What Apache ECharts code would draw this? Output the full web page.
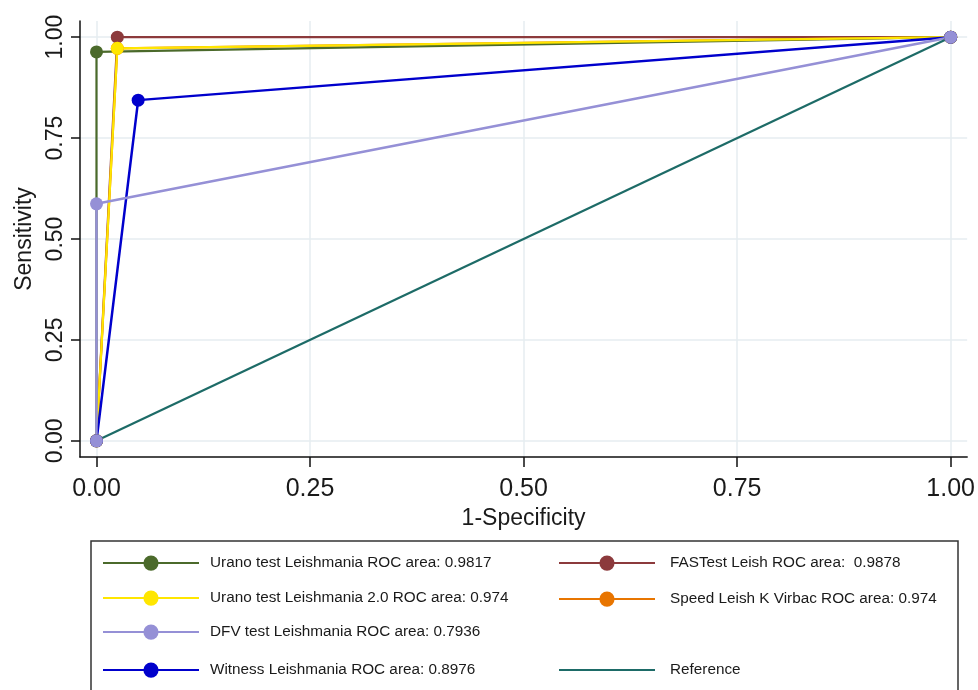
<!DOCTYPE html>
<html>
<head>
<meta charset="utf-8">
<script src="https://cdn.jsdelivr.net/npm/echarts@6/dist/echarts.min.js"></script>
<style>html,body{margin:0;padding:0;background:#fff;}#c{width:978px;height:690px;}</style>
</head>
<body>
<div id="c"></div>
<script>
// ---- data ----
const xTicks = [0, 0.25, 0.5, 0.75, 1];
const yTicks = [0, 0.25, 0.5, 0.75, 1];
const nameUrano = 'Urano test Leishmania ROC area: 0.9817';
const nameFas = 'FASTest Leish ROC area:  0.9878';
const nameUrano2 = 'Urano test Leishmania 2.0 ROC area: 0.974';
const nameSpeed = 'Speed Leish K Virbac ROC area: 0.974';
const nameDfv = 'DFV test Leishmania ROC area: 0.7936';
const nameWitness = 'Witness Leishmania ROC area: 0.8976';
const nameRef = 'Reference';
const uranoPts = [[0, 0], [0, 0.9634], [1, 1]];
const fasPts = [[0, 0], [0.0244, 1], [1, 1]];
const urano2Pts = [[0, 0], [0.0244, 0.9724], [1, 1]];
const speedPts = [[0, 0], [0.0244, 0.9724], [1, 1]];
const dfvPts = [[0, 0], [0, 0.5872], [1, 1]];
const witnessPts = [[0, 0], [0.0488, 0.8440], [1, 1]];
const refPts = [[0, 0], [1, 1]];

const FONT = 'Liberation Sans, Arial, sans-serif';
const C = {
  urano: '#4b6a2b', fas: '#8c3a3c', urano2: '#ffe600', speed: '#e87500',
  dfv: '#9590d6', witness: '#0000cc', ref: '#1d6b67'
};

function lineSeries(name, data, color, width, showSym) {
  return {
    name: name, type: 'line', data: data,
    symbol: showSym ? 'circle' : 'none', symbolSize: 13, showSymbol: showSym,
    lineStyle: { color: color, width: width },
    itemStyle: { color: color },
    emphasis: { disabled: true }, animation: false
  };
}

function legendAt(name, left, cy, padLeft, hideSym) {
  const item = { name: name };
  if (hideSym) item.itemStyle = { opacity: 0 };
  return {
    data: [item], left: left, top: cy - 9.5, padding: 0,
    itemWidth: 96, itemHeight: 19, selectedMode: false,
    textStyle: { fontFamily: FONT, fontSize: 15.3, color: '#1a1a1a', padding: [0, 0, 0, padLeft] }
  };
}

const chart = echarts.init(document.getElementById('c'));
chart.setOption({
  backgroundColor: '#fff',
  animation: false,
  grid: { left: 80, right: 10, top: 21, bottom: 233, containLabel: false },
  xAxis: {
    type: 'value', min: -0.0193, max: 1.0193,
    name: '1-Specificity', nameLocation: 'middle', nameGap: 49,
    nameTextStyle: { fontFamily: FONT, fontSize: 23, color: '#1a1a1a' },
    axisLine: { onZero: false, lineStyle: { color: '#111', width: 1.5 } },
    axisTick: { show: true, length: 10, customValues: xTicks, lineStyle: { color: '#111', width: 1.5 } },
    axisLabel: { customValues: xTicks, margin: 20, fontFamily: FONT, fontSize: 25, color: '#1a1a1a',
      formatter: v => v.toFixed(2) },
    splitLine: { show: true, lineStyle: { color: '#e6edf1', width: 1.5 } }
  },
  yAxis: {
    type: 'value', min: -0.04, max: 1.04,
    name: 'Sensitivity', nameLocation: 'middle', nameGap: 41,
    nameTextStyle: { fontFamily: FONT, fontSize: 23, color: '#1a1a1a' },
    axisLine: { onZero: false, lineStyle: { color: '#111', width: 1.5 } },
    axisTick: { show: true, length: 9, customValues: yTicks, lineStyle: { color: '#111', width: 1.5 } },
    axisLabel: { customValues: yTicks, rotate: 90, margin: 13, fontFamily: FONT, fontSize: 23, color: '#1a1a1a',
      formatter: v => v.toFixed(2) },
    splitLine: { show: true, lineStyle: { color: '#e6edf1', width: 1.5 } }
  },
  legend: [
    legendAt(nameUrano, 102, 565, 6, false),
    legendAt(nameUrano2, 102, 600, 6, false),
    legendAt(nameDfv, 102, 634, 6, false),
    legendAt(nameWitness, 102, 672, 6, false),
    legendAt(nameFas, 558, 565, 10, false),
    legendAt(nameSpeed, 558, 601, 10, false),
    legendAt(nameRef, 558, 672, 10, true)
  ],
  graphic: [{
    type: 'rect', silent: true, z: -1,
    shape: { x: 91, y: 541, width: 867, height: 170 },
    style: { fill: 'none', stroke: '#333', lineWidth: 1.5 }
  }],
  series: [
    lineSeries(nameFas, fasPts, C.fas, 2.2, true),
    lineSeries(nameSpeed, speedPts, C.speed, 2.2, true),
    lineSeries(nameUrano, uranoPts, C.urano, 2.2, true),
    lineSeries(nameUrano2, urano2Pts, C.urano2, 2.2, true),
    lineSeries(nameWitness, witnessPts, C.witness, 2.5, true),
    lineSeries(nameDfv, dfvPts, C.dfv, 2.5, true),
    lineSeries(nameRef, refPts, C.ref, 2.2, false)
  ]
});
</script>
</body>
</html>
